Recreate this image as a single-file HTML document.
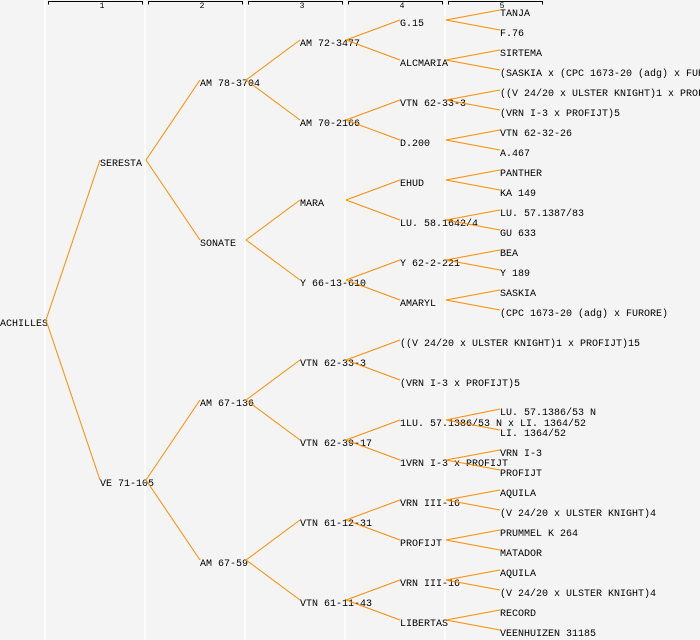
<!DOCTYPE html>
<html><head><meta charset="utf-8"><style>
html,body{margin:0;padding:0;background:#f4f4f4;}
svg{display:block;}
text{font-family:"Liberation Mono",monospace;font-size:10px;fill:#000;}
.h{font-size:8px;}
</style></head><body>
<svg id="s" width="700" height="640" xmlns="http://www.w3.org/2000/svg">
<rect width="700" height="640" fill="#f4f4f4"/>
<g stroke="#fff" stroke-width="1.5">
<line x1="45" y1="0" x2="45" y2="640"/><line x1="145" y1="0" x2="145" y2="640"/>
<line x1="245" y1="0" x2="245" y2="640"/><line x1="345" y1="0" x2="345" y2="640"/>
<line x1="445" y1="0" x2="445" y2="640"/>
</g>
<g stroke="#000" stroke-width="1" fill="none">
<path d="M48.5,4.5V1.5H142.5V4.5"/><path d="M148.5,4.5V1.5H242.5V4.5"/>
<path d="M248.5,4.5V1.5H342.5V4.5"/><path d="M348.5,4.5V1.5H442.5V4.5"/>
<path d="M448.5,4.5V1.5H542.5V4.5"/>
</g>
<text class="h" x="102" y="8" text-anchor="middle">1</text>
<text class="h" x="202" y="8" text-anchor="middle">2</text>
<text class="h" x="302" y="8" text-anchor="middle">3</text>
<text class="h" x="402" y="8" text-anchor="middle">4</text>
<text class="h" x="502" y="8" text-anchor="middle">5</text>
<g id="t"></g>
<g id="l" stroke="#ff8c00" stroke-width="1" fill="none"></g>
</svg>
<script>
var nodes=[
[0,322,"ACHILLES"],
[1,162,"SERESTA",0],[1,482,"VE 71-105",0],
[2,82,"AM 78-3704",1],[2,242,"SONATE",1],[2,402,"AM 67-136",2],[2,562,"AM 67-59",2],
[3,42,"AM 72-3477",3],[3,122,"AM 70-2166",3],[3,202,"MARA",4],[3,282,"Y 66-13-610",4],
[3,362,"VTN 62-33-3",5],[3,442,"VTN 62-39-17",5],[3,522,"VTN 61-12-31",6],[3,602,"VTN 61-11-43",6],
[4,22,"G.15",7],[4,62,"ALCMARIA",7],[4,102,"VTN 62-33-3",8],[4,142,"D.200",8],
[4,182,"EHUD",9],[4,222,"LU. 58.1642/4",9],[4,262,"Y 62-2-221",10],[4,302,"AMARYL",10],
[4,342,"((V 24/20 x ULSTER KNIGHT)1 x PROFIJT)15",11],[4,382,"(VRN I-3 x PROFIJT)5",11],
[4,422,"1LU. 57.1386/53 N x LI. 1364/52",12],[4,462,"1VRN I-3 x PROFIJT",12],
[4,502,"VRN III-16",13],[4,542,"PROFIJT",13],[4,582,"VRN III-16",14],[4,622,"LIBERTAS",14],
[5,12,"TANJA",15],[5,32,"F.76",15],[5,52,"SIRTEMA",16],[5,72,"(SASKIA x (CPC 1673-20 (adg) x FURORE))",16],
[5,92,"((V 24/20 x ULSTER KNIGHT)1 x PROFIJT)5",17],[5,112,"(VRN I-3 x PROFIJT)5",17],
[5,132,"VTN 62-32-26",18],[5,152,"A.467",18],[5,172,"PANTHER",19],[5,192,"KA 149",19],
[5,212,"LU. 57.1387/83",20],[5,232,"GU 633",20],[5,252,"BEA",21],[5,272,"Y 189",21],
[5,292,"SASKIA",22],[5,312,"(CPC 1673-20 (adg) x FURORE)",22],
[5,411,"LU. 57.1386/53 N",25],[5,432,"LI. 1364/52",25],[5,452,"VRN I-3",26],[5,472,"PROFIJT",26],
[5,492,"AQUILA",27],[5,512,"(V 24/20 x ULSTER KNIGHT)4",27],[5,532,"PRUMMEL K 264",28],[5,552,"MATADOR",28],
[5,572,"AQUILA",29],[5,592,"(V 24/20 x ULSTER KNIGHT)4",29],[5,612,"RECORD",30],[5,632,"VEENHUIZEN 31185",30]
];
var NS="http://www.w3.org/2000/svg",t=document.getElementById("t"),l=document.getElementById("l");
nodes.forEach(function(n){
 var x=n[0]*100,y=n[1];
 var e=document.createElementNS(NS,"text");e.setAttribute("x",x);e.setAttribute("y",y+4);e.textContent=n[2];t.appendChild(e);
 if(n.length>3){var p=nodes[n[3]];var px=p[0]*100+46,py=p[1]-2;
  var ln=document.createElementNS(NS,"line");ln.setAttribute("x1",px);ln.setAttribute("y1",py);ln.setAttribute("x2",x);ln.setAttribute("y2",y-2);l.appendChild(ln);}
});
</script>
</body></html>
